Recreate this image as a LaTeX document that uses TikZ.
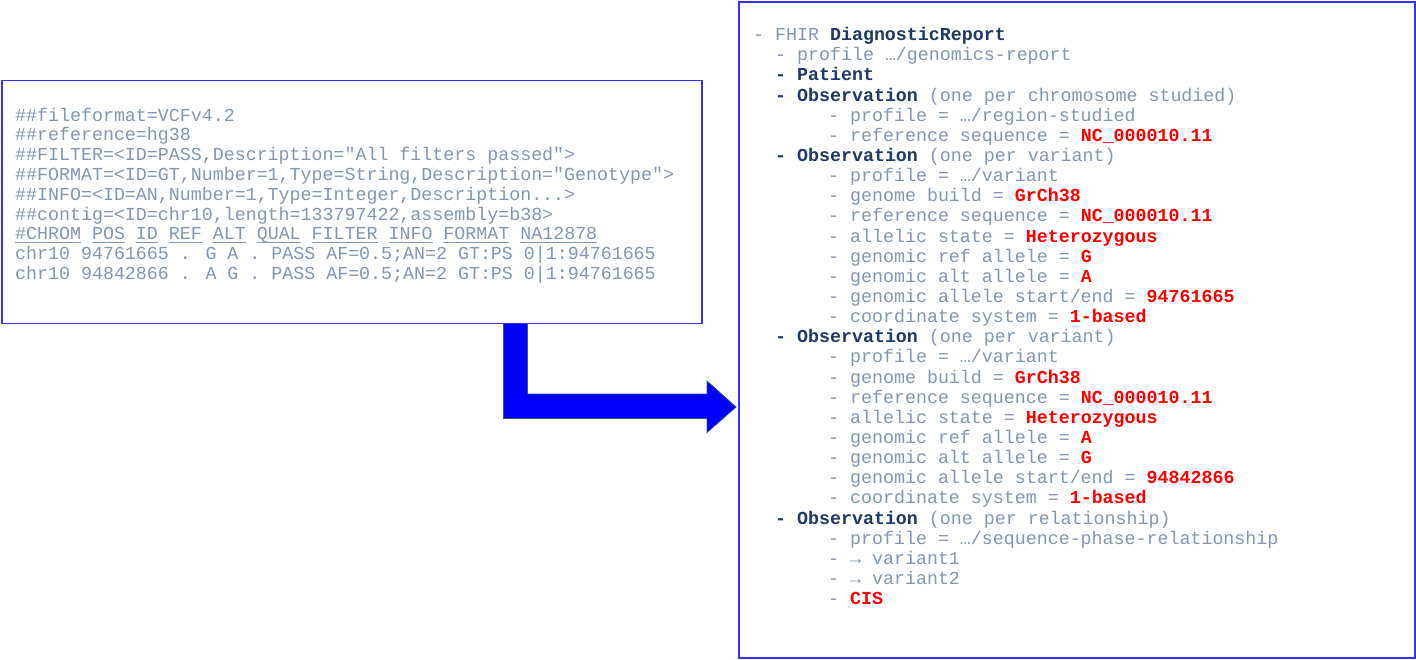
\documentclass[tikz,border=0pt]{standalone}
\usepackage{fontspec}
\setmainfont{Liberation Mono}[Ligatures=TeXOff]
\definecolor{txt}{HTML}{8497B0}
\definecolor{dk}{HTML}{1F3864}
\definecolor{rd}{HTML}{FF0000}
\definecolor{bx}{HTML}{3333FF}
\definecolor{arr}{HTML}{0000FF}
\definecolor{arrline}{HTML}{2F528F}
\newcommand{\vul}[1]{\setbox0\hbox{#1}\rlap{\rule[-3.3pt]{\wd0}{1pt}}\box0\relax}
\newcommand{\dkb}[1]{{\bfseries\color{dk}#1}}
\newcommand{\rdb}[1]{{\bfseries\color{rd}#1}}
\tikzset{
  boxst/.style={draw=bx, line width=1.6pt, fill=white, inner sep=0pt, anchor=north west},
  ln/.style={anchor=base west, inner sep=0pt, text=txt, font=\fontsize{18.3}{20}\selectfont},
  bigarrow/.style={fill=arr, draw=arrline, line width=0.8pt, line join=miter}
}
\begin{document}
\begin{tikzpicture}[x=1pt,y=-1pt]
\useasboundingbox (0,0) rectangle (1416,659);
% bent arrow
\fill[bigarrow] (503.5,322) -- (527.5,322) -- (527.5,394) -- (707,394) -- (707,381)
  -- (736,407) -- (707,432.5) -- (707,418.5) -- (503.5,418.5) -- cycle;
% boxes
\node[boxst, minimum width=700pt, minimum height=243pt] (lbox) at (1,79.5) {};
\node[boxst, minimum width=676pt, minimum height=656pt] (rbox) at (738,1) {};
% left text
\def\ly#1{121+19.8*#1}
\node[ln] (l1) at (15,{\ly{0}}) {\#\#fileformat=VCFv4.2};
\node[ln] (l2) at (15,{\ly{1}}) {\#\#reference=hg38};
\node[ln] (l3) at (15,{\ly{2}}) {\#\#FILTER=<ID=PASS,Description="All filters passed">};
\node[ln] (l4) at (15,{\ly{3}}) {\#\#FORMAT=<ID=GT,Number=1,Type=String,Description="Genotype">};
\node[ln] (l5) at (15,{\ly{4}}) {\#\#INFO=<ID=AN,Number=1,Type=Integer,Description...>};
\node[ln] (l6) at (15,{\ly{5}}) {\#\#contig=<ID=chr10,length=133797422,assembly=b38>};
\node[ln] (l7) at (15,{\ly{6}}) {\vul{\#CHROM} \vul{POS} \vul{ID} \vul{REF} \vul{ALT} \vul{QUAL} \vul{FILTER} \vul{INFO} \vul{FORMAT} \vul{NA12878}};
\node[ln] (l8) at (15,{\ly{7}}) {chr10 94761665 . G A . PASS AF=0.5;AN=2 GT:PS 0|1:94761665};
\node[ln] (l9) at (15,{\ly{8}}) {chr10 94842866 . A G . PASS AF=0.5;AN=2 GT:PS 0|1:94761665};
% right text
\def\ry#1{40.7+20.14*#1}
\def\xa{753}\def\xb{775}\def\xc{828}
\node[ln] (r1) at (\xa,{\ry{0}}) {- FHIR \dkb{DiagnosticReport}};
\node[ln] (r2) at (\xb,{\ry{1}}) {- profile …/genomics-report};
\node[ln] (r3) at (\xb,{\ry{2}}) {\dkb{- Patient}};
\node[ln] (r4) at (\xb,{\ry{3}}) {\dkb{- Observation} (one per chromosome studied)};
\node[ln] (r5) at (\xc,{\ry{4}}) {- profile = …/region-studied};
\node[ln] (r6) at (\xc,{\ry{5}}) {- reference sequence = \rdb{NC\_000010.11}};
\node[ln] (r7) at (\xb,{\ry{6}}) {\dkb{- Observation} (one per variant)};
\node[ln] (r8) at (\xc,{\ry{7}}) {- profile = …/variant};
\node[ln] (r9) at (\xc,{\ry{8}}) {- genome build = \rdb{GrCh38}};
\node[ln] (r10) at (\xc,{\ry{9}}) {- reference sequence = \rdb{NC\_000010.11}};
\node[ln] (r11) at (\xc,{\ry{10}}) {- allelic state = \rdb{Heterozygous}};
\node[ln] (r12) at (\xc,{\ry{11}}) {- genomic ref allele = \rdb{G}};
\node[ln] (r13) at (\xc,{\ry{12}}) {- genomic alt allele = \rdb{A}};
\node[ln] (r14) at (\xc,{\ry{13}}) {- genomic allele start/end = \rdb{94761665}};
\node[ln] (r15) at (\xc,{\ry{14}}) {- coordinate system = \rdb{1-based}};
\node[ln] (r16) at (\xb,{\ry{15}}) {\dkb{- Observation} (one per variant)};
\node[ln] (r17) at (\xc,{\ry{16}}) {- profile = …/variant};
\node[ln] (r18) at (\xc,{\ry{17}}) {- genome build = \rdb{GrCh38}};
\node[ln] (r19) at (\xc,{\ry{18}}) {- reference sequence = \rdb{NC\_000010.11}};
\node[ln] (r20) at (\xc,{\ry{19}}) {- allelic state = \rdb{Heterozygous}};
\node[ln] (r21) at (\xc,{\ry{20}}) {- genomic ref allele = \rdb{A}};
\node[ln] (r22) at (\xc,{\ry{21}}) {- genomic alt allele = \rdb{G}};
\node[ln] (r23) at (\xc,{\ry{22}}) {- genomic allele start/end = \rdb{94842866}};
\node[ln] (r24) at (\xc,{\ry{23}}) {- coordinate system = \rdb{1-based}};
\node[ln] (r25) at (\xb,{\ry{24}}) {\dkb{- Observation} (one per relationship)};
\node[ln] (r26) at (\xc,{\ry{25}}) {- profile = …/sequence-phase-relationship};
\node[ln] (r27) at (\xc,{\ry{26}}) {- → variant1};
\node[ln] (r28) at (\xc,{\ry{27}}) {- → variant2};
\node[ln] (r29) at (\xc,{\ry{28}}) {- \rdb{CIS}};
\end{tikzpicture}
\end{document}
